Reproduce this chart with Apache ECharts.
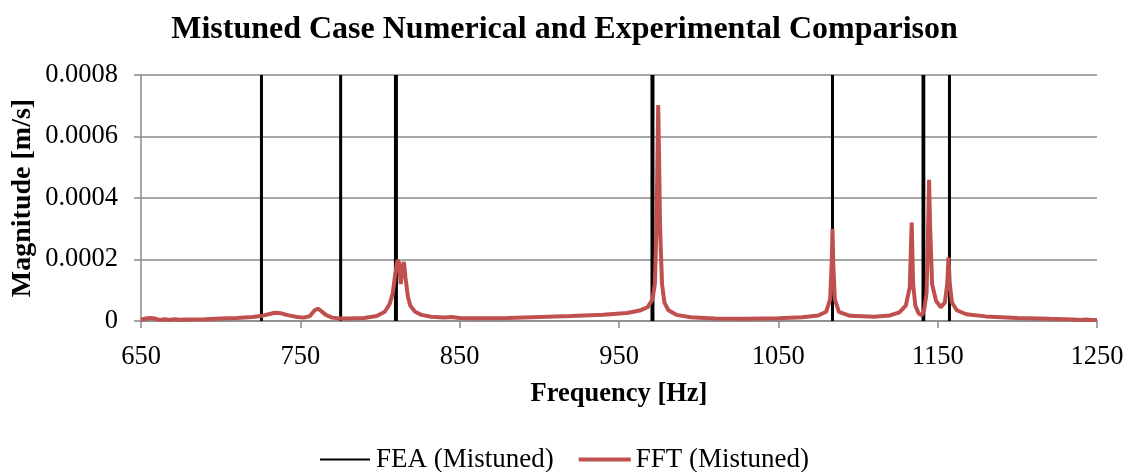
<!DOCTYPE html>
<html>
<head>
<meta charset="utf-8">
<script src="https://cdn.jsdelivr.net/npm/echarts@6/dist/echarts.min.js"></script>
<style>html,body{margin:0;padding:0;background:#fff;}#c{width:1129px;height:472px;}</style>
</head>
<body>
<div id="c"></div>
<script>
var xTicks = [650, 750, 850, 950, 1050, 1150, 1250];
var yTicks = [0, 0.0002, 0.0004, 0.0006, 0.0008];
var feaFreqs = [725.6, 775.3, 809.7, 810.3, 970.7, 971.3, 1084, 1140.8, 1141.3, 1157.4];
var feaTop = 0.0008;
var fftFreq = [650,653,656,659,662,665,668,671,674,680,690,700,710,720,725,730,734,738,742,748,752,756,759,761,763,766,770,775,780,790,798,803,806,808,809.5,811,812,813,814,815,816,817.5,819,822,826,832,840,845,850,860,880,900,920,940,955,963,968,971,972.5,973.5,974.2,974.6,975,975.8,977,978.5,981,986,995,1010,1030,1050,1065,1075,1080,1082.5,1083.5,1084,1084.5,1085.5,1088,1095,1110,1120,1126,1130,1132.5,1133.7,1134.6,1136,1138,1140,1141.5,1143,1144,1144.6,1145.3,1146.5,1149,1152,1154.5,1156,1156.8,1157.6,1159,1162,1168,1180,1200,1220,1235,1240,1243,1246,1250];
var fftMag = [0.000004,0.000008,0.00001,0.000008,0.000003,0.000006,0.000003,0.000006,0.000004,0.000005,0.000006,0.000008,0.00001,0.000013,0.000016,0.000022,0.000027,0.000025,0.000019,0.000013,0.000011,0.000016,0.000035,0.00004,0.000033,0.00002,0.000011,0.000008,0.000008,0.00001,0.000016,0.00003,0.000055,0.00009,0.00015,0.000198,0.00019,0.00012,0.00017,0.000192,0.00014,0.00008,0.00005,0.00003,0.00002,0.000014,0.000011,0.000013,0.00001,0.000009,0.00001,0.000013,0.000016,0.00002,0.000026,0.000034,0.000045,0.00007,0.00012,0.0003,0.00055,0.000702,0.00058,0.0003,0.00012,0.00006,0.000035,0.00002,0.000012,0.000008,0.000007,0.000009,0.000012,0.000018,0.00003,0.00007,0.00019,0.0003,0.00018,0.00007,0.00003,0.000017,0.000014,0.000018,0.000028,0.00005,0.00011,0.00032,0.00012,0.00005,0.000025,0.000018,0.000035,0.00009,0.0003,0.000459,0.0003,0.00012,0.000065,0.000045,0.00006,0.00012,0.000207,0.00012,0.00006,0.000035,0.000022,0.000015,0.00001,0.000007,0.000005,0.000003,0.000005,0.000003,0.000003];

var feaData = [];
feaFreqs.forEach(function(f){ feaData.push([f,0]); feaData.push([f,feaTop]); feaData.push('-'); });
var fftData = fftFreq.map(function(f,i){ return [f, fftMag[i]]; });

var font = 'Liberation Serif, Times New Roman, serif';
var chart = echarts.init(document.getElementById('c'));
chart.setOption({
  animation: false,
  title: {
    text: 'Mistuned Case Numerical and Experimental Comparison',
    left: 'center', top: 9,
    textStyle: {fontFamily: font, fontWeight: 'bold', fontSize: 32, color: '#000'}
  },
  legend: {
    top: 441, left: 'center', itemGap: 25, itemWidth: 52, itemHeight: 4,
    textStyle: {fontFamily: font, fontSize: 27, color: '#000'},
    data: [
      {name: 'FEA (Mistuned)', icon: 'path://M0,0M0,4M0,1H50V3H0Z', itemStyle: {color: '#000'}},
      {name: 'FFT (Mistuned)', icon: 'rect', itemStyle: {color: '#C0504D'}}
    ]
  },
  grid: {left: 141, right: 32, top: 75, bottom: 151, containLabel: false},
  xAxis: {
    type: 'value', min: 650, max: 1250,
    name: 'Frequency [Hz]', nameLocation: 'middle', nameGap: 60,
    nameTextStyle: {fontFamily: font, fontWeight: 'bold', fontSize: 26.5, color: '#000'},
    axisLine: {show: true, lineStyle: {color: '#898989', width: 1.5}},
    axisTick: {show: true, length: 7, lineStyle: {color: '#898989', width: 1.5}, customValues: xTicks},
    axisLabel: {fontFamily: font, fontSize: 26.5, color: '#000', margin: 23, customValues: xTicks,
      formatter: function(v){ return String(v); }},
    splitLine: {show: false}
  },
  yAxis: {
    type: 'value', min: 0, max: 0.0008, interval: 0.0002,
    name: 'Magnitude [m/s]', nameLocation: 'middle', nameGap: 104, nameRotate: 90,
    nameMoveOverlap: false,
    nameTextStyle: {fontFamily: font, fontWeight: 'bold', fontSize: 28, color: '#000'},
    axisLine: {show: true, lineStyle: {color: '#898989', width: 1.5}},
    axisTick: {show: true, length: 7, lineStyle: {color: '#898989', width: 1.5}},
    axisLabel: {fontFamily: font, fontSize: 26.5, color: '#000', margin: 23,
      formatter: function(v){ return v === 0 ? '0' : v.toFixed(4); }},
    splitLine: {show: true, lineStyle: {color: '#898989', width: 1.5}}
  },
  series: [
    {name: 'FEA (Mistuned)', type: 'line', data: feaData, showSymbol: false, symbol: 'none',
     connectNulls: false, lineStyle: {color: '#000', width: 3}, itemStyle: {color: '#000'}},
    {name: 'FFT (Mistuned)', type: 'line', data: fftData, showSymbol: false, symbol: 'none',
     lineStyle: {color: '#C0504D', width: 4}, itemStyle: {color: '#C0504D'}}
  ]
});
</script>
</body>
</html>
